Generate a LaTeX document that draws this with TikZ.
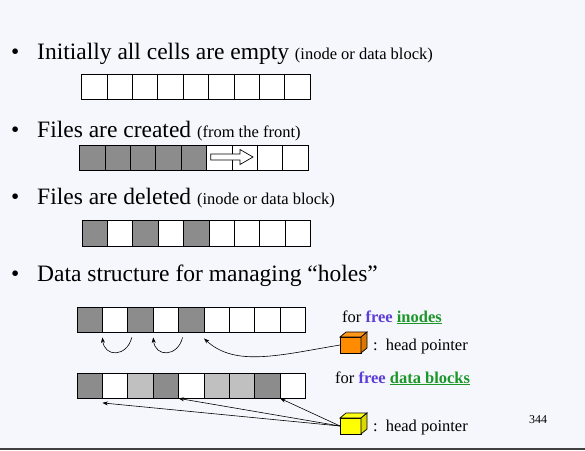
\documentclass[tikz,border=0pt]{standalone}
\usepackage{fontspec}
\setmainfont{Liberation Serif}
\usetikzlibrary{arrows.meta, positioning, calc}

\definecolor{slidebg}{RGB}{246,247,252}
\definecolor{usedcell}{RGB}{140,140,140}
\definecolor{oldcell}{RGB}{192,192,192}
\definecolor{freeblue}{RGB}{92,62,214}
\definecolor{linkgreen}{RGB}{28,150,40}
\definecolor{ptrorange}{RGB}{255,140,0}
\definecolor{ptryellow}{RGB}{255,255,0}

\newcommand{\aside}[1]{{\fontsize{16.5}{20}\selectfont #1}}

\begin{document}
\begin{tikzpicture}[
    x=1pt, y=-1pt,
    >=Stealth,
    cell/.style={draw, line width=0.8pt, minimum width=25.4pt,
                 minimum height=25.4pt, inner sep=0pt, outer sep=0pt},
    bigtext/.style={anchor=base west, inner sep=0pt,
                    font=\fontsize{23.5}{28}\selectfont},
    note/.style={anchor=base west, inner sep=0pt,
                 font=\fontsize{16.5}{20}\selectfont},
    front/.style={draw, line width=0.7pt, minimum width=21pt,
                  minimum height=16pt, inner sep=0pt, outer sep=0pt},
    link/.style={->, line width=0.6pt, >={Stealth[length=5.5pt, width=4pt]}}
  ]
  \fill[slidebg] (0,0) rectangle (585,450);
  \fill[black!75] (0,447.5) rectangle (585,450);

  % Bullet lines
  \node[bigtext] (d1) at (11,59) {•};
  \node[bigtext] (t1) at (37,59)
    {Initially all cells are empty \aside{(inode or data block)}};
  \node[bigtext] (d2) at (11,137) {•};
  \node[bigtext] (t2) at (37,137)
    {Files are created \aside{(from the front)}};
  \node[bigtext] (d3) at (11,204) {•};
  \node[bigtext] (t3) at (37,204)
    {Files are deleted \aside{(inode or data block)}};
  \node[bigtext] (d4) at (11,281) {•};
  \node[bigtext] (t4) at (37,281)
    {Data structure for managing “holes”};

  % Cell rows
  \foreach \f [count=\i] in {white,white,white,white,white,white,white,white,white}
    \node[cell, fill=\f] (e\i) at ({94.2+(\i-1)*25.4}, 86.7) {};
  \foreach \f [count=\i] in {usedcell,usedcell,usedcell,usedcell,usedcell,white,white,white,white}
    \node[cell, fill=\f] (c\i) at ({92.2+(\i-1)*25.4}, 157.7) {};
  \foreach \f [count=\i] in {usedcell,white,usedcell,white,usedcell,white,white,white,white}
    \node[cell, fill=\f] (r\i) at ({94.7+(\i-1)*25.4}, 233.5) {};
  \foreach \f [count=\i] in {usedcell,white,usedcell,white,usedcell,white,white,white,white}
    \node[cell, fill=\f] (i\i) at ({89.7+(\i-1)*25.4}, 319.7) {};
  \foreach \f [count=\i] in {usedcell,white,oldcell,usedcell,white,oldcell,oldcell,usedcell,white}
    \node[cell, fill=\f] (b\i) at ({89.7+(\i-1)*25.4}, 385.7) {};

  % Creation direction
  \draw[line width=0.7pt, fill=white] (210.7,154) -- (240,154) -- (240,149.5)
    -- (253,157) -- (240,164.5) -- (240,160) -- (210.7,160) -- cycle;

  % Head pointers
  \node[front, fill=ptrorange] (ocube) at (350.5,345) {};
  \draw[line width=0.7pt, fill=ptrorange!90!white] (ocube.north west)
    -- ++(6,-5) -- ++(21,0) -- (ocube.north east) -- cycle;
  \draw[line width=0.7pt, fill=ptrorange!85!black] (ocube.north east)
    -- ++(6,-5) -- ++(0,16) -- (ocube.south east) -- cycle;
  \node[front, fill=ptryellow] (ycube) at (350.5,426) {};
  \draw[line width=0.7pt, fill=ptryellow!90!white] (ycube.north west)
    -- ++(6,-5) -- ++(21,0) -- (ycube.north east) -- cycle;
  \draw[line width=0.7pt, fill=ptryellow!85!black] (ycube.north east)
    -- ++(6,-5) -- ++(0,16) -- (ycube.south east) -- cycle;

  \node[note] (fi) at (342,322)
    {for \textbf{\color{freeblue}free} \textbf{\color{linkgreen}\underline{inodes}}};
  \node[note] (hp1) at (373,350) {:\hspace{8pt}head pointer};
  \node[note] (fb) at (335,383)
    {for \textbf{\color{freeblue}free} \textbf{\color{linkgreen}\underline{data blocks}}};
  \node[note] (hp2) at (373,431) {:\hspace{8pt}head pointer};
  \node[anchor=base west, inner sep=0pt, font=\fontsize{12}{14}\selectfont]
    (pg) at (529,423) {344};

  % Free inode chain
  \draw[link] ([xshift=4pt, yshift=-5pt]i2.south east)
    .. controls +(-5,20) and +(2,20) .. ([yshift=-5pt]i1.south east);
  \draw[link] ([xshift=4pt, yshift=-5pt]i4.south east)
    .. controls +(-5,20) and +(2,20) .. ([yshift=-5pt]i3.south east);
  \draw[link] (ocube.west)
    .. controls +(-60,10) and +(31,29) .. ([yshift=-6pt]i5.south east);

  % Free block list
  \draw[link] (ycube.west) -- ([yshift=-4.5pt]b1.south east);
  \draw[link] (ycube.west) -- (b4.south east);
  \draw[link] (ycube.west) -- (b8.south east);
\end{tikzpicture}
\end{document}
